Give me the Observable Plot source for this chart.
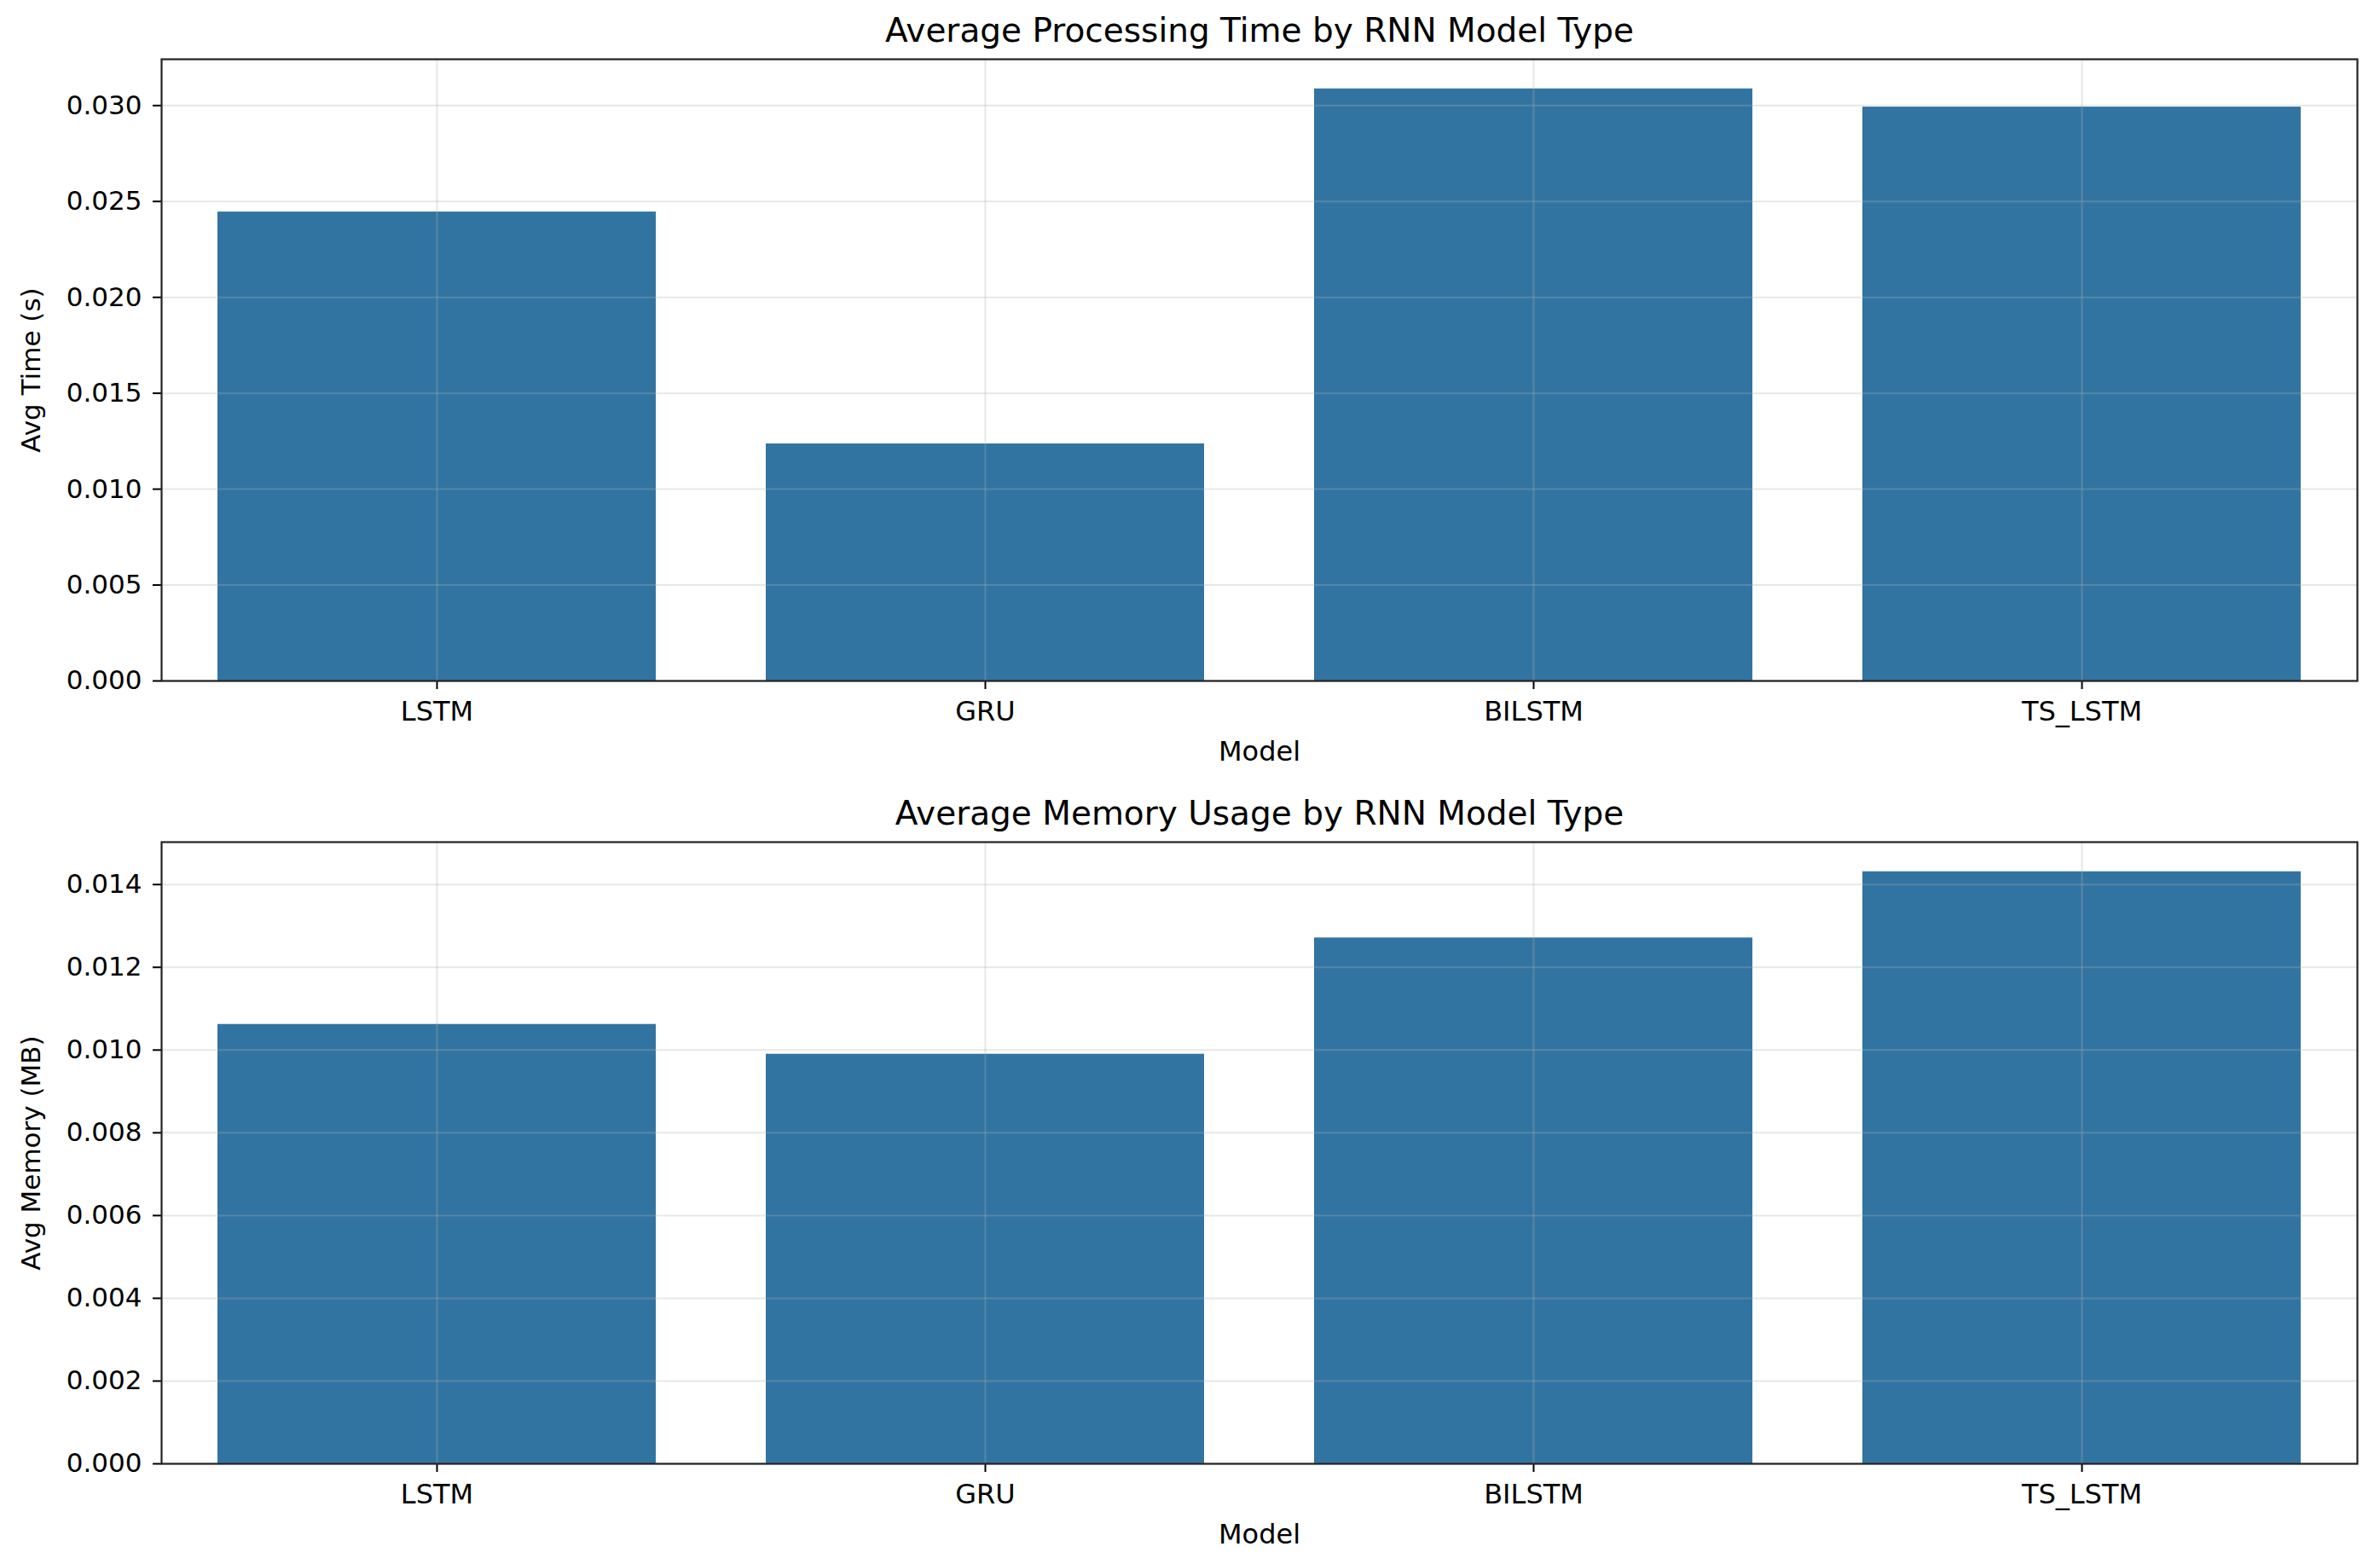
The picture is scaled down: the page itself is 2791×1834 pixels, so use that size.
<!DOCTYPE html>
<html>
<head>
<meta charset="utf-8">
<script src="https://cdn.jsdelivr.net/npm/d3@7"></script>
<script src="https://cdn.jsdelivr.net/npm/@observablehq/plot@0.6"></script>
<style>
  html, body { margin: 0; padding: 0; background: white; }
  #chart { width: 2791px; }
  #chart svg { display: block; }
</style>
</head>
<body>
<div id="chart"></div>
<script>
const models = ["LSTM", "GRU", "BILSTM", "TS_LSTM"];
const avgTime = [0.02445, 0.01236, 0.03087, 0.02992];
const avgMemory = [0.01062, 0.0099, 0.01271, 0.01431];
const timeTicks = [0, 0.005, 0.010, 0.015, 0.020, 0.025, 0.030];
const memTicks = [0, 0.002, 0.004, 0.006, 0.008, 0.010, 0.012, 0.014];
const titles = ["Average Processing Time by RNN Model Type", "Average Memory Usage by RNN Model Type"];
const yLabels = ["Avg Time (s)", "Avg Memory (MB)"];
const xLabel = "Model";

const barColor = "#3274a1";
const gridStyle = {stroke: "#b0b0b0", strokeOpacity: 0.3, strokeWidth: 2};
const fmt = d3.format(".3f");

function panel(values, ticks, title, yLabel, marginTop, marginBottom) {
  const data = models.map((m, i) => ({model: m, value: values[i]}));
  return Plot.plot({
    width: 2791,
    height: 917,
    marginLeft: 189,
    marginRight: 27,
    marginTop,
    marginBottom,
    style: {fontFamily: "DejaVu Sans", fontSize: "31px", color: "#000", background: "white", overflow: "visible"},
    x: {domain: models, paddingInner: 0.2, paddingOuter: 0.1, label: null},
    y: {domain: [0, d3.max(values) * 1.05], label: null},
    marks: [
      Plot.barY(data, {x: "model", y: "value", fill: barColor}),
      Plot.gridX(models, gridStyle),
      Plot.gridY(ticks, gridStyle),
      Plot.axisY(ticks, {tickSize: 10, tickPadding: 13, tickFormat: fmt, strokeWidth: 2,
        label: yLabel, labelAnchor: "center", labelOffset: 165, labelArrow: "none"}),
      Plot.axisX(models, {tickSize: 10, tickPadding: 14, strokeWidth: 2, fontSize: 32,
        label: xLabel, labelAnchor: "center", labelOffset: 93, labelArrow: "none"}),
      Plot.frame({stroke: "#222", strokeWidth: 2.2}),
      Plot.text([title], {frameAnchor: "top", dy: -33, lineAnchor: "middle", fontSize: 39, fill: "#000"})
    ]
  });
}

const el = document.getElementById("chart");
el.append(panel(avgTime, timeTicks, titles[0], yLabels[0], 69, 119));
el.append(panel(avgMemory, memTicks, titles[1], yLabels[1], 70, 118));
</script>
</body>
</html>
